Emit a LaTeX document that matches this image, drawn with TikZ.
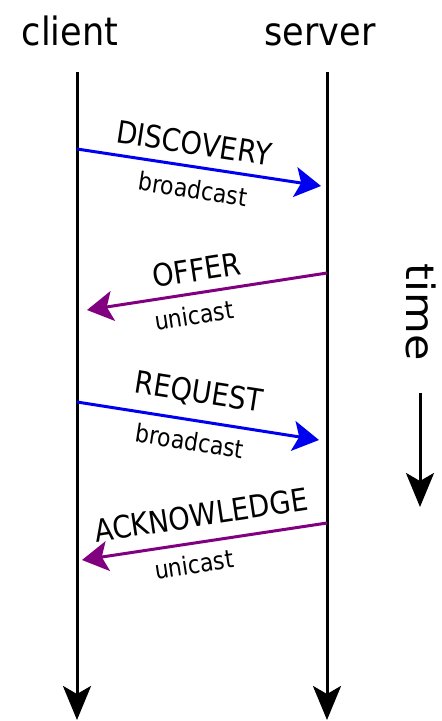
\documentclass[tikz,border=0pt]{standalone}
\usepackage{fontspec}
\setmainfont{DejaVu Sans}
\usetikzlibrary{arrows.meta}
\definecolor{msgblue}{RGB}{0,0,240}
\definecolor{msgpurple}{RGB}{128,0,128}
\tikzset{
  head/.style={font=\fontsize{39}{41}\selectfont, anchor=base, inner sep=0pt},
  msg/.style={font=\fontsize{31}{33}\selectfont, inner sep=0pt},
  cast/.style={font=\fontsize{25}{27}\selectfont, inner sep=0pt},
  life/.style={line width=3pt, -{Stealth[length=34pt,width=28pt,inset=8pt]}},
  bmsg/.style={line width=3pt, draw=msgblue, -{Stealth[length=26pt,width=30pt,inset=6pt,fill=msgblue]}},
  pmsg/.style={line width=3pt, draw=msgpurple, -{Stealth[length=26pt,width=30pt,inset=6pt,fill=msgpurple]}},
}
\begin{document}
\begin{tikzpicture}[x=1pt,y=-1pt]
\useasboundingbox (0,0) rectangle (442,721);
% headers
\node[head] (client) at (70,45) {\scalebox{0.9}[1]{client}};
\node[head] (server) at (320,45) {\scalebox{0.9}[1]{server}};
% lifelines
\coordinate (ctop) at (77,72);
\coordinate (cbot) at (77,720);
\coordinate (stop) at (327,72);
\coordinate (sbot) at (327,720);
\draw[life] (ctop) -- (cbot);
\draw[life] (stop) -- (sbot);
% message end points
\coordinate (d1) at (77,149);
\coordinate (d2) at (321,186);
\coordinate (o1) at (327,273);
\coordinate (o2) at (87,310);
\coordinate (r1) at (77,402);
\coordinate (r2) at (319,440);
\coordinate (a1) at (327,523);
\coordinate (a2) at (82,560);
\draw[bmsg] (d1) -- (d2);
\draw[pmsg] (o1) -- (o2);
\draw[bmsg] (r1) -- (r2);
\draw[pmsg] (a1) -- (a2);
% labels
\node[msg, rotate=-8.7] (ldisc) at (194,143) {\scalebox{0.88}[1]{DISCOVERY}};
\node[cast, rotate=-8.7] (cdisc) at (193,189) {\scalebox{0.88}[1]{broadcast}};
\node[msg, rotate=8.8] (loffer) at (197,270) {\scalebox{0.88}[1]{OFFER}};
\node[cast, rotate=8.8] (coffer) at (194,315) {\scalebox{0.88}[1]{unicast}};
\node[msg, rotate=-8.9] (lreq) at (199,393) {\scalebox{0.88}[1]{REQUEST}};
\node[cast, rotate=-8.9] (creq) at (190,441) {\scalebox{0.88}[1]{broadcast}};
\node[msg, rotate=8.6] (lack) at (201,515) {\scalebox{0.88}[1]{ACKNOWLEDGE}};
\node[cast, rotate=8.6] (cack) at (194,564) {\scalebox{0.88}[1]{unicast}};
% time
\node[head, anchor=center, rotate=-90] (time) at (421,312) {\scalebox{1.1}[1]{time}};
\coordinate (ttop) at (420,393);
\coordinate (tbot) at (420,507);
\draw[life] (ttop) -- (tbot);
\end{tikzpicture}
\end{document}
